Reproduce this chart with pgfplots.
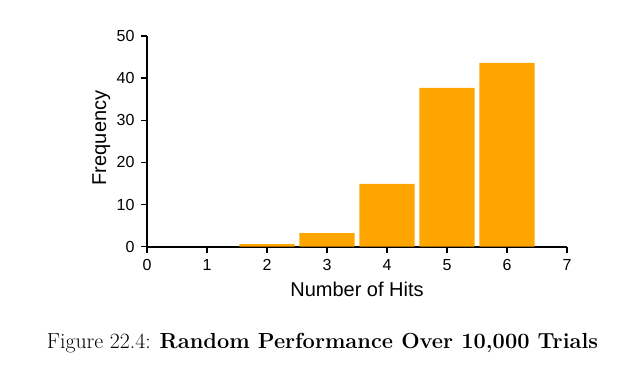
\documentclass[border=0pt]{standalone}
\usepackage{fontspec}
\setsansfont{Liberation Sans}
\usepackage{pgfplots}
\pgfplotsset{compat=1.18}
\definecolor{barorange}{HTML}{FFA500}
\begin{document}
\begin{tikzpicture}
\path[use as bounding box] (0,0) rectangle (635pt,384pt);
\begin{axis}[
  at={(147pt,137.3pt)}, anchor=south west,
  scale only axis, width=420pt, height=210.7pt,
  xmin=0, xmax=7, ymin=0, ymax=50,
  axis lines*=left,
  axis line style={line width=1.8pt, black},
  tick align=outside, major tick length=6pt,
  tick style={line width=1.5pt, black},
  xtick={0,...,7}, ytick={0,10,...,50},
  tick label style={font=\sffamily\fontsize{16}{19}\selectfont},
  xticklabel style={yshift=-3pt},
  yticklabel style={xshift=-3pt},
  /pgf/number format/assume math mode=true,
  xlabel={Number of Hits}, ylabel={Frequency},
  label style={font=\sffamily\fontsize{20}{24}\selectfont},
  xlabel style={at={(axis description cs:0.5,-0.234)}, anchor=base},
  ylabel style={at={(axis description cs:-0.0976,0.516)}, anchor=base},
  ybar, bar width=0.92,
]
\addplot[fill=barorange, draw=none] coordinates {(2,0.6) (3,3.25) (4,14.9) (5,37.7) (6,43.6)};
\end{axis}
\node[anchor=base, inner sep=0pt] at (322.5pt,36pt) {\fontsize{21.8}{26}\selectfont Figure 22.4: \textbf{Random Performance Over 10,000 Trials}};
\end{tikzpicture}
\end{document}
